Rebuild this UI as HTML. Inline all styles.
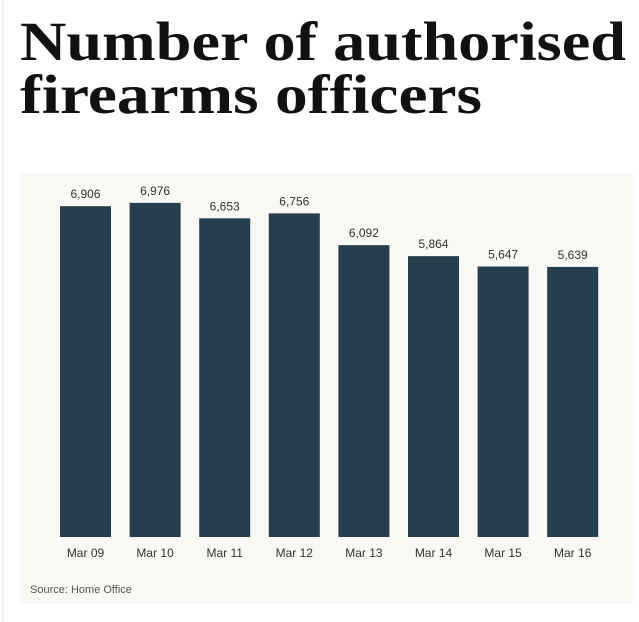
<!DOCTYPE html>
<html><head><meta charset="utf-8"><style>
html,body{margin:0;padding:0;background:#fff;}
svg{display:block;}
</style></head><body>
<svg id="chart" width="639" height="622" viewBox="0 0 639 622" xmlns="http://www.w3.org/2000/svg">
<line x1="3" y1="0" x2="3" y2="622" stroke="#e2e2e2" stroke-width="1"/>
<text x="20" y="60" font-family="'Liberation Serif',serif" font-weight="bold" font-size="55" fill="#111" textLength="606" lengthAdjust="spacingAndGlyphs">Number of authorised</text>
<text x="20" y="113" font-family="'Liberation Serif',serif" font-weight="bold" font-size="55" fill="#111" textLength="462" lengthAdjust="spacingAndGlyphs">firearms officers</text>
<rect x="20" y="173" width="613" height="431" fill="#f9f8f4"/>
<g id="bars"></g>
<text x="30" y="593" font-family="'Liberation Sans',sans-serif" font-size="11" fill="#555">Source: Home Office</text>
</svg>
<script>
const categories = ["Mar 09","Mar 10","Mar 11","Mar 12","Mar 13","Mar 14","Mar 15","Mar 16"];
const values = [6906,6976,6653,6756,6092,5864,5647,5639];
const valueLabels = ["6,906","6,976","6,653","6,756","6,092","5,864","5,647","5,639"];

const NS="http://www.w3.org/2000/svg";
const baseY=537, pxPerUnit=0.0479, x0=60, step=69.6, barW=51;
function yScale(v){return baseY - v*pxPerUnit;}
function xScale(i){return x0 + i*step;}
const g=document.getElementById('bars');
categories.forEach((c,i)=>{
  const x=xScale(i), y=yScale(values[i]);
  const r=document.createElementNS(NS,'rect');
  r.setAttribute('x',x);r.setAttribute('y',y);r.setAttribute('width',barW);r.setAttribute('height',baseY-y);
  r.setAttribute('fill','#263f4e');
  
  
  g.appendChild(r);
  const t=document.createElementNS(NS,'text');
  t.setAttribute('x',x+barW/2);t.setAttribute('y',y-8);
  t.setAttribute('text-anchor','middle');t.setAttribute('font-family',"'Liberation Sans',sans-serif");
  t.setAttribute('font-size','12');t.setAttribute('fill','#333');
  t.textContent=valueLabels[i];
  
  
  g.appendChild(t);
  const l=document.createElementNS(NS,'text');
  l.setAttribute('x',x+barW/2);l.setAttribute('y',557);
  l.setAttribute('text-anchor','middle');l.setAttribute('font-family',"'Liberation Sans',sans-serif");
  l.setAttribute('font-size','12');l.setAttribute('fill','#333');
  l.textContent=c;
  
  
  g.appendChild(l);
});
</script>
</body></html>
